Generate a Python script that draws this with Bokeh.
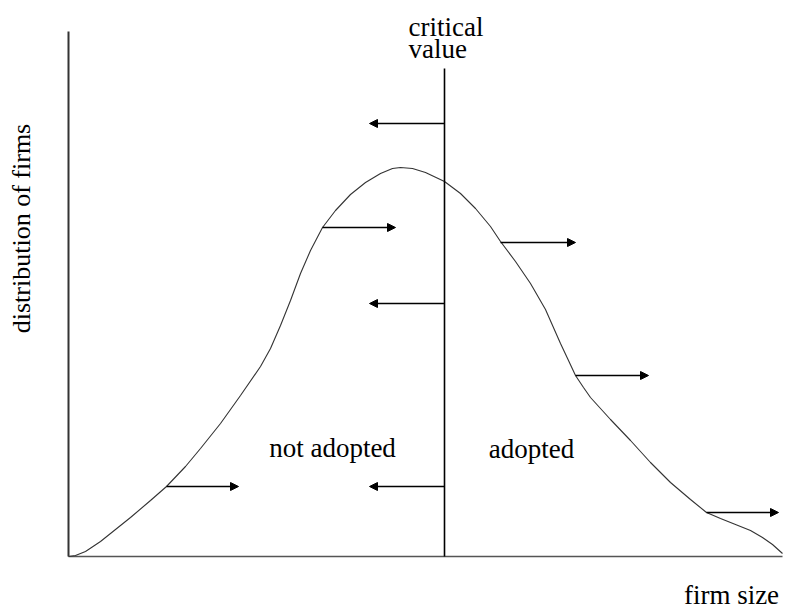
import math
from bokeh.plotting import figure
from bokeh.models import Arrow, NormalHead, ColumnDataSource
from bokeh.core.properties import value
from bokeh.embed import file_html
from bokeh.resources import INLINE

# Density curve of firm sizes (diagram units: x = firm size, y = share of firms)
curve_x = [0, 7, 17, 32, 47, 62, 82, 98, 117, 132, 152, 172, 192, 202, 212, 222,
           232, 242, 254, 267, 282, 297, 312, 324, 332, 344, 357, 376, 392, 407,
           422, 432, 447, 462, 477, 492, 500, 507, 515, 522, 542, 562, 582, 602,
           622, 638, 652, 667, 682, 694, 704, 714]
curve_y = [0, 1, 5, 15, 27, 39, 56, 70, 90, 108, 133, 161, 190, 208, 231, 256,
           283, 306, 329, 346, 362, 374, 383, 388, 389, 388, 384, 375, 363, 348,
           330, 315, 295, 273, 247, 213, 196, 181, 169, 159, 137, 116, 94, 74,
           57, 44, 38, 32, 26, 19, 12, 3]

# Critical value of firm size
critical_x = 376
critical_top = 488

# Axis extents
x_axis_end = 714
y_axis_end = 525

# Shift arrows
arrow_x_start = [376, 254, 376, 432, 507, 98, 376, 638]
arrow_x_end = [301, 327, 301, 507, 580, 170, 301, 710]
arrow_y = [433, 329, 253, 314, 181, 70, 70, 44]

# Labels
label_text = ["not adopted", "adopted", "firm size"]
label_x = [264, 463, 663]
label_y = [109, 108, -38]

crit_text = ["critical", "value"]
crit_x = [340, 340]
crit_y = [530, 508]

ylabel_text = ["distribution of firms"]
ylabel_x = [-47]
ylabel_y = [328]

W, H = 787, 608
p = figure(width=W, height=H, x_range=(-68, 719), y_range=(-52, 556),
           output_backend="svg", toolbar_location=None,
           min_border=0, min_border_left=0, min_border_right=0,
           min_border_top=0, min_border_bottom=0)
p.axis.visible = False
p.grid.visible = False
p.outline_line_color = None
p.background_fill_color = "white"
p.border_fill_color = "white"

# axes
p.line([0, 0], [0, y_axis_end], line_color="#333333", line_width=2)
p.line([0, x_axis_end], [0, 0], line_color="#555555", line_width=1.6)

# curve
p.line(curve_x, curve_y, line_color="#333333", line_width=1.1)

# critical value line
p.line([critical_x, critical_x], [0, critical_top], line_color="black", line_width=1.6)

# arrows
src = ColumnDataSource(dict(x0=arrow_x_start, x1=arrow_x_end, y=arrow_y))
p.add_layout(Arrow(x_start="x0", y_start="y", x_end="x1", y_end="y", source=src,
                   line_color="black", line_width=1.5,
                   end=NormalHead(size=8, fill_color="black", line_color="black")))

font = value("Liberation Serif")
p.text(label_x, label_y, text=label_text, text_font=font, text_font_size="27px",
       text_align="center", text_baseline="alphabetic", text_color="black")
p.text(crit_x, crit_y, text=crit_text, text_font=font, text_font_size="27px",
       text_align="left", text_baseline="alphabetic", text_color="black")
p.text(ylabel_x, ylabel_y, text=ylabel_text, text_font=font, text_font_size="26px",
       text_align="center", text_baseline="alphabetic", angle=math.pi / 2,
       text_color="black")

open("out.html", "w").write(file_html(p, INLINE))
